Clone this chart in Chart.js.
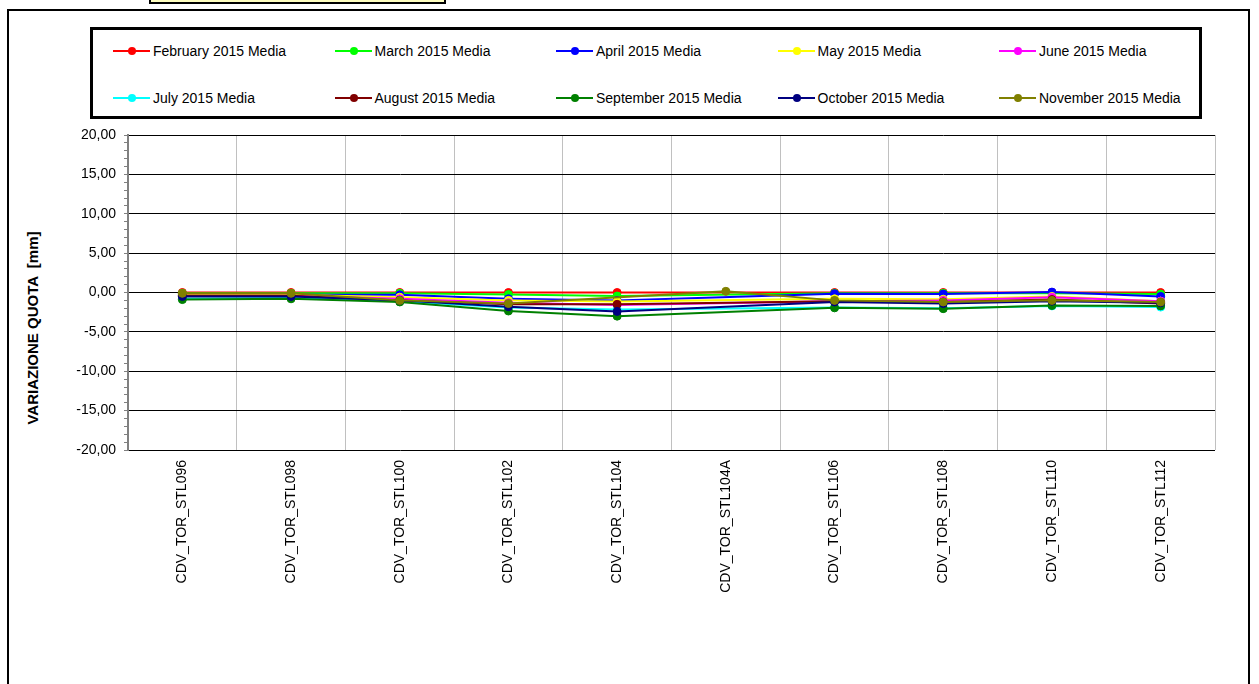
<!DOCTYPE html>
<html>
<head>
<meta charset="utf-8">
<script src="https://cdn.jsdelivr.net/npm/chart.js@4/dist/chart.umd.min.js"></script>
<style>
    html, body { margin: 0; padding: 0; background: #fff; overflow: hidden; }
    body { width: 1259px; height: 684px; position: relative; font-family: 'Liberation Sans', Arial, sans-serif; }
    #frame { position: absolute; left: 7px; top: 9px; width: 1243px; height: 700px; border: 2px solid #000; box-sizing: border-box; }
    #note { position: absolute; left: 149px; top: -10px; width: 297px; height: 14px; background: #ffffc0; border: 2px solid #000; box-sizing: border-box; }
    #legend { position: absolute; left: 90px; top: 27px; width: 1112px; height: 92px; border: 3px solid #000; box-sizing: border-box; background: #fff; }
    .item { position: absolute; height: 16px; font-size: 14px; line-height: 16px; white-space: nowrap; color: #000; }
    .swatch { position: absolute; left: 0; top: 7px; width: 37px; height: 2px; }
    .dot { position: absolute; left: 15px; top: -3px; width: 8px; height: 8px; border-radius: 50%; }
    .item span.txt { position: absolute; left: 40px; top: 0; }
    #ytitle { position: absolute; left: 32px; top: 328px; transform: translate(-50%, -50%) rotate(-90deg); font-size: 15px; font-weight: bold; white-space: pre; }
    canvas { position: absolute; left: 0; top: 0; }
</style>
</head>
<body>
<div id="frame"></div>
<div id="note"></div>
<div id="legend"></div>
<div id="ytitle">VARIAZIONE QUOTA  [mm]</div>
<canvas id="chart" width="1259" height="684"></canvas>
<script>
// Stations
const categories = ['CDV_TOR_STL096', 'CDV_TOR_STL098', 'CDV_TOR_STL100', 'CDV_TOR_STL102', 'CDV_TOR_STL104',
    'CDV_TOR_STL104A', 'CDV_TOR_STL106', 'CDV_TOR_STL108', 'CDV_TOR_STL110', 'CDV_TOR_STL112'];

// Monthly averages [mm]
const feb = [0.00, 0.00, 0.00, 0.00, 0.00, null, 0.00, 0.00, 0.00, 0.00];
const mar = [-0.10, -0.10, -0.10, -0.25, -0.45, null, -0.10, -0.10, -0.10, -0.20];
const apr = [-0.30, -0.30, -0.30, -0.80, -1.00, null, -0.15, -0.20, 0.05, -0.50];
const may = [-0.30, -0.30, -0.60, -1.00, -1.15, null, -0.80, -0.85, -0.50, -1.10];
const jun = [-0.40, -0.40, -0.80, -1.30, -1.60, null, -1.10, -1.00, -0.60, -1.10];
const jul = [-0.80, -0.70, -1.10, -1.90, -2.15, null, -1.90, -2.00, -1.70, -1.85];
const aug = [-0.40, -0.40, -1.00, -1.50, -1.50, null, -1.10, -1.20, -0.90, -1.40];
const sep = [-0.90, -0.80, -1.20, -2.35, -3.00, null, -1.95, -2.05, -1.65, -1.70];
const oct = [-0.50, -0.50, -1.00, -1.80, -2.40, null, -1.20, -1.40, -1.10, -1.30];
const nov = [-0.10, -0.10, -1.00, -1.40, null, 0.15, -1.00, -1.20, -1.00, -1.20];

const seriesNames = ['February 2015 Media', 'March 2015 Media', 'April 2015 Media', 'May 2015 Media', 'June 2015 Media',
    'July 2015 Media', 'August 2015 Media', 'September 2015 Media', 'October 2015 Media', 'November 2015 Media'];
const seriesData = [feb, mar, apr, may, jun, jul, aug, sep, oct, nov];
const seriesColors = ['#ff0000', '#00ff00', '#0000ff', '#ffff00', '#ff00ff', '#00ffff', '#800000', '#008000', '#000080', '#808000'];

// Y axis
const yMin = -20;
const yMax = 20;
const yMajor = 5;

// Build legend (2 rows x 5 columns)
const legend = document.getElementById('legend');
seriesNames.forEach((name, i) => {
    const item = document.createElement('div');
    item.className = 'item';
    item.style.left = (20 + (i % 5) * 221.5) + 'px';
    item.style.top = (13 + Math.floor(i / 5) * 47) + 'px';
    item.innerHTML = '<div class="swatch" style="background:' + seriesColors[i] + '">' +
        '<div class="dot" style="background:' + seriesColors[i] + '"></div></div>' +
        '<span class="txt">' + name + '</span>';
    legend.appendChild(item);
});

const datasets = seriesData.map((data, i) => ({
    label: seriesNames[i],
    data: data,
    borderColor: seriesColors[i],
    backgroundColor: seriesColors[i],
    borderWidth: 2,
    pointRadius: 4,
    pointBorderWidth: 1,
    pointBackgroundColor: seriesColors[i],
    pointBorderColor: seriesColors[i],
    spanGaps: true,
    tension: 0,
    order: seriesData.length - i
}));

new Chart(document.getElementById('chart'), {
    type: 'line',
    data: { labels: categories, datasets: datasets },
    options: {
        responsive: false,
        animation: false,
        layout: { padding: { left: 0, top: 135, right: 44, bottom: 0 } },
        plugins: {
            legend: { display: false },
            tooltip: { enabled: false }
        },
        scales: {
            x: {
                offset: true,
                grid: {
                    color: '#c0c0c0',
                    lineWidth: 1,
                    offset: true,
                    drawTicks: false
                },
                border: { display: false },
                ticks: {
                    color: '#000',
                    font: { family: "'Liberation Sans', Arial, sans-serif", size: 14 },
                    minRotation: 90,
                    maxRotation: 90,
                    autoSkip: false,
                    padding: 10
                },
                afterFit: function(scale) { scale.height = 234; }
            },
            y: {
                min: yMin,
                max: yMax,
                grid: {
                    color: ctx => (ctx.tick && ctx.tick.value % yMajor === 0) ? '#000' : 'rgba(0,0,0,0)',
                    tickColor: '#808080',
                    tickLength: 4,
                    lineWidth: 1
                },
                border: { color: '#808080', width: 2 },
                ticks: {
                    stepSize: 1,
                    autoSkip: false,
                    color: '#000',
                    padding: 8,
                    font: { family: "'Liberation Sans', Arial, sans-serif", size: 14 },
                    callback: function(value) {
                        if (value % yMajor !== 0) return '';
                        return value.toFixed(2).replace('.', ',');
                    }
                },
                afterFit: function(scale) { scale.width = 128; }
            }
        }
    },
    plugins: [{
        id: 'rightBorder',
        afterDraw(chart) {
            const a = chart.chartArea;
            const c = chart.ctx;
            c.save();
            c.strokeStyle = '#c0c0c0';
            c.lineWidth = 1;
            c.beginPath();
            c.moveTo(a.right + 0.5, a.top);
            c.lineTo(a.right + 0.5, a.bottom);
            c.stroke();
            c.restore();
        }
    }]
});
</script>
</body>
</html>
